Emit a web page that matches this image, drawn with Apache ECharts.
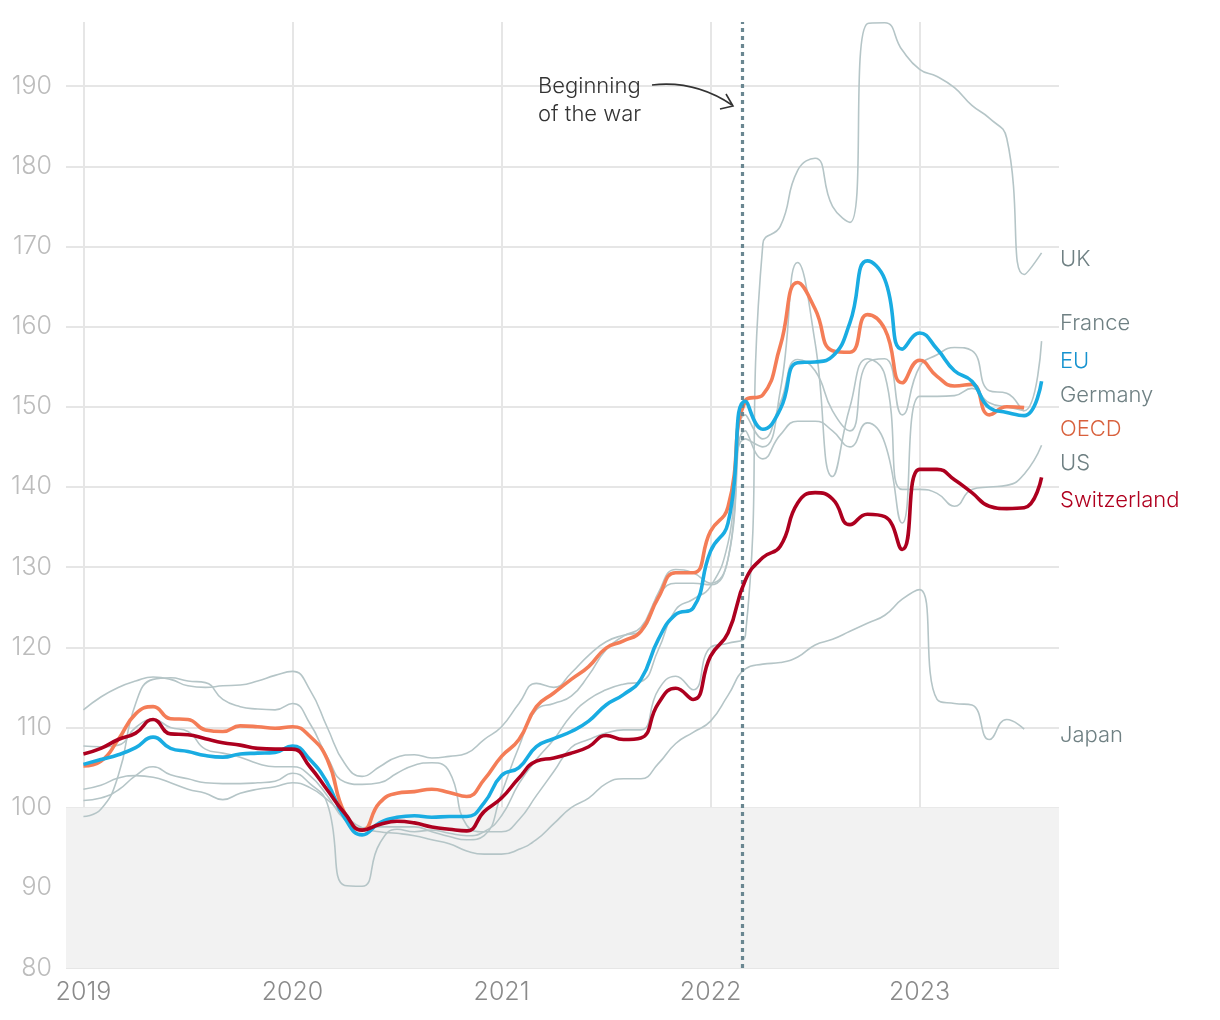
<!DOCTYPE html>
<html>
<head>
<meta charset="utf-8">
<script src="https://cdn.jsdelivr.net/npm/echarts@6/dist/echarts.min.js"></script>
<style>
html,body{margin:0;padding:0;background:#fff;}
#chart{width:1220px;height:1020px;}
</style>
</head>
<body>
<div id="chart"></div>
<script>
// Monthly values, Jan 2019 (index 0) onwards
const startYear = 2019;
const yearLabels = ['2019', '2020', '2021', '2022', '2023'];
const yTicks = [80, 90, 100, 110, 120, 130, 140, 150, 160, 170, 180, 190];
const warDate = '2022-02-24';

const EU = [105.4, 106.0, 106.6, 107.5, 108.8, 107.4, 107.0, 106.5, 106.3, 106.7, 106.8, 106.9, 107.7,
  106.0, 103.1, 98.7, 96.6, 98.1, 98.8, 99.0, 98.8, 98.9, 98.9, 100.6, 104.0, 105.0,
  107.6, 108.6, 109.5, 110.8, 112.8, 114.1, 116.0, 121.0, 124.1, 124.9,
  132.0, 135.5, 150.7, 147.2, 149.7, 155.5, 155.6, 156.3, 160.5, 168.2, 165.9, 157.2,
  159.2, 157.2, 154.5, 153.2, 149.9, 149.3, 148.9, 153.2];
const OECD = [105.2, 105.8, 108.5, 111.7, 112.6, 111.1, 111.0, 109.7, 109.5, 110.2, 110.1, 109.9, 110.1,
  108.9, 106.0, 99.3, 97.2, 100.6, 101.8, 102.0, 102.3, 101.9, 101.4, 103.5, 106.4, 108.5,
  112.6, 114.3, 116.0, 117.6, 119.9, 120.8, 122.0, 126.2, 129.3, 129.3,
  134.5, 137.5, 150.8, 151.5, 157.6, 165.5, 162.2, 157.0, 156.8, 161.5, 159.7, 153.0,
  155.8, 153.8, 152.6, 152.8, 149.0, 150.0, 149.9];
const Switzerland = [106.7, 107.4, 108.5, 109.3, 111.0, 109.2, 109.1, 108.6, 108.1, 107.8, 107.4, 107.3, 107.3,
  105.1, 102.2, 99.3, 97.2, 97.9, 98.3, 98.1, 97.6, 97.3, 97.1, 99.5, 101.2, 103.7,
  105.8, 106.2, 106.8, 107.6, 109.0, 108.5, 108.7, 113.0, 114.9, 113.5,
  118.9, 121.8, 128.4, 131.2, 132.6, 138.0, 139.3, 138.5, 135.3, 136.6, 136.3, 132.2,
  142.2, 142.2, 140.9, 139.3, 137.6, 137.3, 137.4, 141.2];
const UK = [98.9, 99.8, 104.0, 113.0, 116.0, 116.2, 115.8, 115.6, 113.5, 112.6, 112.3, 112.2, 113.0,
  110.5, 106.3, 103.2, 102.9, 103.1, 104.3, 105.3, 105.6, 104.5, 97.8, 97.0, 97.0, 98.5,
  101.5, 104.5, 107.5, 108.5, 109.3, 109.7, 109.7, 114.7, 116.4, 114.7,
  120.0, 120.5, 121.5, 170.3, 172.5, 179.5, 181.0, 175.0, 173.0, 197.8, 197.9, 194.5,
  192.1, 191.2, 189.8, 187.6, 186.0, 183.5, 166.5, 169.2];
const France = [112.2, 113.8, 115.0, 115.8, 116.3, 116.0, 115.2, 115.0, 115.2, 115.3, 115.8, 116.5, 117.0,
  114.7, 110.0, 105.5, 103.9, 105.1, 106.3, 106.6, 106.2, 106.4, 106.8, 108.5, 110.1, 113.0,
  115.5, 115.0, 116.8, 119.0, 120.7, 121.5, 122.0, 126.8, 129.7, 129.3,
  128.0, 131.0, 149.0, 146.0, 150.5, 155.9, 154.5, 149.5, 147.0, 155.5, 156.0, 149.0,
  155.0, 156.5, 157.4, 157.0, 152.0, 151.7, 149.5, 158.2];
const Germany = [107.7, 107.6, 107.8, 110.0, 111.0, 110.0, 109.5, 107.3, 106.8, 106.3, 105.5, 105.1, 105.1,
  104.0, 101.5, 98.5, 97.5, 97.6, 97.6, 97.6, 97.0, 96.4, 96.0, 96.5, 101.8, 107.6,
  112.2, 113.0, 113.9, 116.5, 119.7, 121.4, 122.5, 126.4, 128.0, 128.0,
  127.8, 131.0, 147.0, 143.5, 146.5, 148.2, 148.2, 147.0, 145.0, 148.0, 145.5, 135.5,
  151.3, 151.3, 151.4, 152.3, 150.5, 150.0, 149.5];
const US = [100.9, 101.2, 102.2, 104.0, 105.1, 104.1, 103.6, 103.1, 103.0, 103.0, 103.1, 103.3, 104.3,
  103.0, 100.5, 90.3, 90.2, 95.5, 97.3, 97.0, 97.2, 96.8, 96.5, 97.0, 99.0, 103.0,
  106.0, 108.5, 111.5, 113.5, 114.7, 115.4, 115.7, 119.7, 124.7, 126.0,
  127.6, 133.0, 146.0, 145.0, 152.0, 168.0, 158.0, 141.3, 150.0, 156.0, 154.0, 139.7,
  139.7, 139.2, 137.6, 139.7, 140.0, 140.2, 141.6, 145.2];
const Japan = [102.3, 102.8, 103.7, 104.0, 103.8, 103.1, 102.3, 101.8, 101.0, 101.8, 102.3, 102.6, 103.1,
  102.5, 101.0, 99.0, 97.5, 97.0, 96.8, 96.5, 96.0, 95.5, 94.6, 94.2, 94.2, 94.8,
  96.0, 98.0, 100.0, 101.2, 103.0, 103.6, 103.6, 105.5, 108.0, 109.4,
  110.8, 114.0, 117.3, 117.9, 118.1, 118.8, 120.3, 121.0, 122.0, 123.0, 124.0, 126.0,
  127.2, 113.5, 113.0, 112.8, 108.5, 111.0, 109.8];

// Right-hand labels: name, anchor value (label placement), colour
const labelNames = ['UK', 'France', 'EU', 'Germany', 'OECD', 'US', 'Switzerland', 'Japan'];
const labelAnchors = [168.4, 160.4, 155.7, 151.4, 147.2, 143.0, 138.3, 109.0];
const labelColors = ['#6f8083', '#6f8083', '#1592cf', '#6f8083', '#d8603c', '#6f8083', '#b0001f', '#6f8083'];

const GRAY = '#b5c5c7';
const FONT = 'Inter, Roboto, "Noto Sans", sans-serif';

function toPairs(arr) { return arr.map((v, i) => [i, v]); }
function dateToIndex(s) {
  const [y, m, d] = s.split('-').map(Number);
  const dim = new Date(y, m, 0).getDate();
  return (y - startYear) * 12 + (m - 1) + (d - 1) / dim;
}

const chart = echarts.init(document.getElementById('chart'), null, {renderer: 'canvas'});

// split line colours: only January ticks get a visible line (ticks every month from -1)
const xSplitColors = [];
for (let k = 0; k < 12; k++) xSplitColors.push(k === 1 ? '#e6e6e6' : 'rgba(0,0,0,0)');
const ySplitColors = yTicks.map(() => '#e6e6e6').concat(['rgba(0,0,0,0)']);

const SMOOTH = 0.5;
function graySeries(name, arr) {
  return {
    name, type: 'line', data: toPairs(arr), smooth: SMOOTH,
    symbol: 'none', lineStyle: {color: GRAY, width: 1.6}, z: 2, silent: true
  };
}
function colorSeries(name, arr, color, z) {
  return {
    name, type: 'line', data: toPairs(arr), smooth: SMOOTH,
    symbol: 'none', lineStyle: {color, width: 3.6}, z, silent: true
  };
}

const option = {
  animation: false,
  backgroundColor: '#ffffff',
  grid: {left: 66, right: 161, top: 22, bottom: 52},
  xAxis: {
    type: 'value', min: -1, max: 56, interval: 1,
    axisLine: {show: false}, axisTick: {show: false},
    axisLabel: {
      margin: 12, color: '#8a8a8a', fontSize: 25, fontFamily: FONT, fontWeight: 300,
      formatter: v => (v >= 0 && v % 12 === 0) ? yearLabels[v / 12] : ''
    },
    splitLine: {show: true, lineStyle: {color: xSplitColors, width: 2}}
  },
  yAxis: {
    type: 'value', min: 80, max: 198, interval: 10,
    axisLine: {show: false}, axisTick: {show: false},
    axisLabel: {
      margin: 14, color: '#bcbcbc', fontSize: 25, fontFamily: FONT, fontWeight: 300,
      showMaxLabel: false,
      formatter: v => yTicks.indexOf(v) >= 0 ? String(v) : ''
    },
    splitLine: {show: true, lineStyle: {color: ySplitColors, width: 2}}
  },
  series: [
    {
      name: 'band', type: 'line', data: [], silent: true,
      markArea: {silent: true, itemStyle: {color: '#f2f2f2'}, data: [[{yAxis: 80}, {yAxis: 100}]]},
      z: 0
    },
    graySeries('UK', UK),
    graySeries('France', France),
    graySeries('Germany', Germany),
    graySeries('US', US),
    graySeries('Japan', Japan),
    {
      name: 'war', type: 'line', data: [], silent: true, z: 3,
      markLine: {
        silent: true, symbol: ['none', 'none'], label: {show: false},
        lineStyle: {color: '#6a8791', width: 3.2, type: [4, 4]},
        data: [{xAxis: dateToIndex(warDate)}]
      }
    },
    colorSeries('OECD', OECD, '#f47d57', 4),
    colorSeries('EU', EU, '#19ace2', 5),
    colorSeries('Switzerland', Switzerland, '#ad001f', 6)
  ]
};
chart.setOption(option);

// labels on the right & annotation
const gridRight = 1220 - 161;
const labelEls = labelNames.map((n, i) => {
  const y = chart.convertToPixel({yAxisIndex: 0}, labelAnchors[i]);
  return {
    type: 'text', x: gridRight + 1, y: y,
    style: {text: n, fill: labelColors[i], fontSize: 22, fontFamily: FONT, fontWeight: 300,
            verticalAlign: 'middle', align: 'left'}
  };
});
const annot = [
  {type: 'text', x: 538, y: 100,
   style: {text: 'Beginning\nof the war', fill: '#333', fontSize: 22, fontFamily: FONT, fontWeight: 300,
           lineHeight: 28, verticalAlign: 'middle', align: 'left'}},
  {type: 'bezierCurve', shape: {x1: 652, y1: 85, cpx1: 695, cpy1: 80, x2: 732, y2: 105},
   style: {stroke: '#333', lineWidth: 1.6, fill: null}},
  {type: 'polyline', shape: {points: [[726, 94], [733, 106], [720, 109]]},
   style: {stroke: '#333', lineWidth: 1.6, fill: null}}
];
chart.setOption({graphic: labelEls.concat(annot)});
</script>
</body>
</html>
